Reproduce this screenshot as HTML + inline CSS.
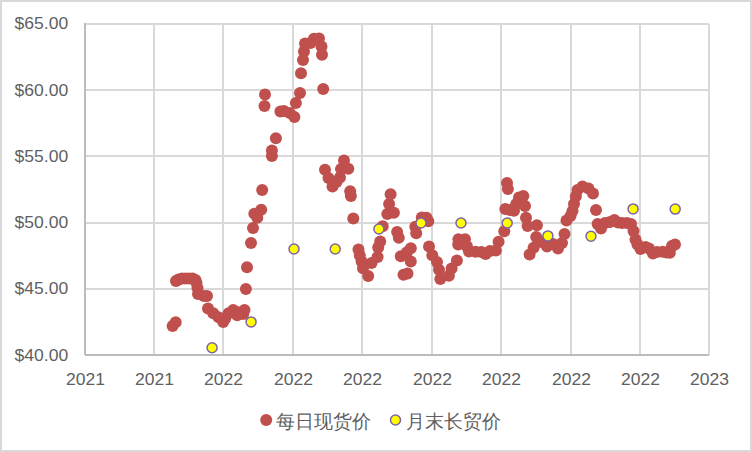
<!DOCTYPE html>
<html><head><meta charset="utf-8"><style>
html,body{margin:0;padding:0;background:#fff;}
body{width:752px;height:452px;overflow:hidden;}
svg{display:block;}
text{font-family:"Liberation Sans",sans-serif;fill:#5f5f5f;}
</style></head><body>
<svg width="752" height="452" viewBox="0 0 752 452">
<rect x="1" y="1" width="750" height="450" fill="#fff" stroke="#d9d9d9" stroke-width="2"/>

<line x1="154.0" y1="24.0" x2="154.0" y2="355.0" stroke="#d9d9d9" stroke-width="2"/>
<line x1="223.0" y1="24.0" x2="223.0" y2="355.0" stroke="#d9d9d9" stroke-width="2"/>
<line x1="293.0" y1="24.0" x2="293.0" y2="355.0" stroke="#d9d9d9" stroke-width="2"/>
<line x1="362.0" y1="24.0" x2="362.0" y2="355.0" stroke="#d9d9d9" stroke-width="2"/>
<line x1="432.0" y1="24.0" x2="432.0" y2="355.0" stroke="#d9d9d9" stroke-width="2"/>
<line x1="501.0" y1="24.0" x2="501.0" y2="355.0" stroke="#d9d9d9" stroke-width="2"/>
<line x1="571.0" y1="24.0" x2="571.0" y2="355.0" stroke="#d9d9d9" stroke-width="2"/>
<line x1="640.0" y1="24.0" x2="640.0" y2="355.0" stroke="#d9d9d9" stroke-width="2"/>
<line x1="709.0" y1="24.0" x2="709.0" y2="355.0" stroke="#d9d9d9" stroke-width="2"/>
<line x1="85.0" y1="24.0" x2="709.0" y2="24.0" stroke="#d9d9d9" stroke-width="2"/>
<line x1="85.0" y1="90.0" x2="709.0" y2="90.0" stroke="#d9d9d9" stroke-width="2"/>
<line x1="85.0" y1="156.0" x2="709.0" y2="156.0" stroke="#d9d9d9" stroke-width="2"/>
<line x1="85.0" y1="223.0" x2="709.0" y2="223.0" stroke="#d9d9d9" stroke-width="2"/>
<line x1="85.0" y1="289.0" x2="709.0" y2="289.0" stroke="#d9d9d9" stroke-width="2"/>
<line x1="709.0" y1="355.0" x2="85.0" y2="355.0" stroke="#bcbcbc" stroke-width="2"/>
<line x1="85.0" y1="23.0" x2="85.0" y2="355.0" stroke="#bcbcbc" stroke-width="2"/>
<text transform="translate(68.2,29.00) scale(1.045,1)" font-size="16.8" text-anchor="end">$65.00</text>
<text transform="translate(68.2,96.00) scale(1.045,1)" font-size="16.8" text-anchor="end">$60.00</text>
<text transform="translate(68.2,162.00) scale(1.045,1)" font-size="16.8" text-anchor="end">$55.00</text>
<text transform="translate(68.2,228.00) scale(1.045,1)" font-size="16.8" text-anchor="end">$50.00</text>
<text transform="translate(68.2,294.00) scale(1.045,1)" font-size="16.8" text-anchor="end">$45.00</text>
<text transform="translate(68.2,361.00) scale(1.045,1)" font-size="16.8" text-anchor="end">$40.00</text>
<text transform="translate(85.60,385.00) scale(1.045,1)" font-size="16.8" text-anchor="middle">2021</text>
<text transform="translate(154.60,385.00) scale(1.045,1)" font-size="16.8" text-anchor="middle">2021</text>
<text transform="translate(223.60,385.00) scale(1.045,1)" font-size="16.8" text-anchor="middle">2022</text>
<text transform="translate(293.60,385.00) scale(1.045,1)" font-size="16.8" text-anchor="middle">2022</text>
<text transform="translate(362.60,385.00) scale(1.045,1)" font-size="16.8" text-anchor="middle">2022</text>
<text transform="translate(432.60,385.00) scale(1.045,1)" font-size="16.8" text-anchor="middle">2022</text>
<text transform="translate(501.60,385.00) scale(1.045,1)" font-size="16.8" text-anchor="middle">2022</text>
<text transform="translate(571.60,385.00) scale(1.045,1)" font-size="16.8" text-anchor="middle">2022</text>
<text transform="translate(640.60,385.00) scale(1.045,1)" font-size="16.8" text-anchor="middle">2022</text>
<text transform="translate(709.60,385.00) scale(1.045,1)" font-size="16.8" text-anchor="middle">2023</text>
<circle cx="172.6" cy="325.9" r="6" fill="#c0504d"/>
<circle cx="175.7" cy="322.3" r="6" fill="#c0504d"/>
<circle cx="176" cy="281" r="6" fill="#c0504d"/>
<circle cx="178.5" cy="279.5" r="6" fill="#c0504d"/>
<circle cx="182" cy="278.5" r="6" fill="#c0504d"/>
<circle cx="185.5" cy="278.5" r="6" fill="#c0504d"/>
<circle cx="189" cy="278.5" r="6" fill="#c0504d"/>
<circle cx="192.5" cy="278.5" r="6" fill="#c0504d"/>
<circle cx="195.5" cy="280" r="6" fill="#c0504d"/>
<circle cx="196.5" cy="283" r="6" fill="#c0504d"/>
<circle cx="197.5" cy="288" r="6" fill="#c0504d"/>
<circle cx="198" cy="294" r="6" fill="#c0504d"/>
<circle cx="204" cy="296" r="6" fill="#c0504d"/>
<circle cx="207" cy="296" r="6" fill="#c0504d"/>
<circle cx="208" cy="308.6" r="6" fill="#c0504d"/>
<circle cx="213.3" cy="313.2" r="6" fill="#c0504d"/>
<circle cx="218.6" cy="317.2" r="6" fill="#c0504d"/>
<circle cx="223.2" cy="321.9" r="6" fill="#c0504d"/>
<circle cx="225.2" cy="318.6" r="6" fill="#c0504d"/>
<circle cx="228.6" cy="313.2" r="6" fill="#c0504d"/>
<circle cx="233.2" cy="309.9" r="6" fill="#c0504d"/>
<circle cx="237.2" cy="311.9" r="6" fill="#c0504d"/>
<circle cx="237.2" cy="315.2" r="6" fill="#c0504d"/>
<circle cx="243.2" cy="313.9" r="6" fill="#c0504d"/>
<circle cx="244.5" cy="309.9" r="6" fill="#c0504d"/>
<circle cx="245.9" cy="289" r="6" fill="#c0504d"/>
<circle cx="247" cy="267.2" r="6" fill="#c0504d"/>
<circle cx="251" cy="243" r="6" fill="#c0504d"/>
<circle cx="253" cy="228" r="6" fill="#c0504d"/>
<circle cx="257.3" cy="217.8" r="6" fill="#c0504d"/>
<circle cx="254.3" cy="213.8" r="6" fill="#c0504d"/>
<circle cx="261.2" cy="209.8" r="6" fill="#c0504d"/>
<circle cx="262.2" cy="189.9" r="6" fill="#c0504d"/>
<circle cx="271.9" cy="155.9" r="6" fill="#c0504d"/>
<circle cx="271.9" cy="150.6" r="6" fill="#c0504d"/>
<circle cx="275.9" cy="138.2" r="6" fill="#c0504d"/>
<circle cx="264.5" cy="106" r="6" fill="#c0504d"/>
<circle cx="265" cy="94.5" r="6" fill="#c0504d"/>
<circle cx="280.4" cy="111.4" r="6" fill="#c0504d"/>
<circle cx="283.9" cy="110.9" r="6" fill="#c0504d"/>
<circle cx="289.9" cy="112.9" r="6" fill="#c0504d"/>
<circle cx="294.4" cy="116.9" r="6" fill="#c0504d"/>
<circle cx="295.9" cy="103" r="6" fill="#c0504d"/>
<circle cx="300" cy="93" r="6" fill="#c0504d"/>
<circle cx="301" cy="73.2" r="6" fill="#c0504d"/>
<circle cx="303" cy="60.1" r="6" fill="#c0504d"/>
<circle cx="304" cy="51.5" r="6" fill="#c0504d"/>
<circle cx="305" cy="43.5" r="6" fill="#c0504d"/>
<circle cx="310.5" cy="43" r="6" fill="#c0504d"/>
<circle cx="314" cy="38.8" r="6" fill="#c0504d"/>
<circle cx="319" cy="38.5" r="6" fill="#c0504d"/>
<circle cx="321.5" cy="46.5" r="6" fill="#c0504d"/>
<circle cx="322" cy="54.7" r="6" fill="#c0504d"/>
<circle cx="323.2" cy="89" r="6" fill="#c0504d"/>
<circle cx="325" cy="169.8" r="6" fill="#c0504d"/>
<circle cx="328.5" cy="178" r="6" fill="#c0504d"/>
<circle cx="332.5" cy="186.5" r="6" fill="#c0504d"/>
<circle cx="336.5" cy="182" r="6" fill="#c0504d"/>
<circle cx="340" cy="177.5" r="6" fill="#c0504d"/>
<circle cx="341" cy="169" r="6" fill="#c0504d"/>
<circle cx="344" cy="160.5" r="6" fill="#c0504d"/>
<circle cx="348.3" cy="168.8" r="6" fill="#c0504d"/>
<circle cx="350.2" cy="191.2" r="6" fill="#c0504d"/>
<circle cx="350.9" cy="196" r="6" fill="#c0504d"/>
<circle cx="353.3" cy="218.6" r="6" fill="#c0504d"/>
<circle cx="358.5" cy="249.5" r="6" fill="#c0504d"/>
<circle cx="359.8" cy="255.5" r="6" fill="#c0504d"/>
<circle cx="361.6" cy="261.6" r="6" fill="#c0504d"/>
<circle cx="363" cy="268.2" r="6" fill="#c0504d"/>
<circle cx="368.2" cy="276" r="6" fill="#c0504d"/>
<circle cx="371.6" cy="262.9" r="6" fill="#c0504d"/>
<circle cx="377.6" cy="256.9" r="6" fill="#c0504d"/>
<circle cx="378.2" cy="247.6" r="6" fill="#c0504d"/>
<circle cx="380.2" cy="241.6" r="6" fill="#c0504d"/>
<circle cx="382.7" cy="226.2" r="6" fill="#c0504d"/>
<circle cx="387.3" cy="214" r="6" fill="#c0504d"/>
<circle cx="389.1" cy="204" r="6" fill="#c0504d"/>
<circle cx="393.9" cy="212.8" r="6" fill="#c0504d"/>
<circle cx="390.6" cy="194.2" r="6" fill="#c0504d"/>
<circle cx="397.1" cy="231.9" r="6" fill="#c0504d"/>
<circle cx="398.8" cy="237.7" r="6" fill="#c0504d"/>
<circle cx="400.8" cy="256.2" r="6" fill="#c0504d"/>
<circle cx="406.8" cy="252.3" r="6" fill="#c0504d"/>
<circle cx="410.8" cy="248.3" r="6" fill="#c0504d"/>
<circle cx="410.8" cy="261.6" r="6" fill="#c0504d"/>
<circle cx="403.5" cy="274.8" r="6" fill="#c0504d"/>
<circle cx="407.5" cy="273.5" r="6" fill="#c0504d"/>
<circle cx="416.2" cy="233.3" r="6" fill="#c0504d"/>
<circle cx="415.3" cy="226.8" r="6" fill="#c0504d"/>
<circle cx="421.8" cy="217.5" r="6" fill="#c0504d"/>
<circle cx="426.5" cy="217.8" r="6" fill="#c0504d"/>
<circle cx="428.3" cy="221.2" r="6" fill="#c0504d"/>
<circle cx="429" cy="246.6" r="6" fill="#c0504d"/>
<circle cx="432.3" cy="255.2" r="6" fill="#c0504d"/>
<circle cx="437" cy="261.9" r="6" fill="#c0504d"/>
<circle cx="439" cy="269.8" r="6" fill="#c0504d"/>
<circle cx="440.3" cy="279.1" r="6" fill="#c0504d"/>
<circle cx="448.9" cy="275.8" r="6" fill="#c0504d"/>
<circle cx="451.6" cy="268.5" r="6" fill="#c0504d"/>
<circle cx="456.9" cy="260.5" r="6" fill="#c0504d"/>
<circle cx="458.2" cy="244.5" r="6" fill="#c0504d"/>
<circle cx="458.4" cy="239.3" r="6" fill="#c0504d"/>
<circle cx="465" cy="239.3" r="6" fill="#c0504d"/>
<circle cx="467" cy="246.5" r="6" fill="#c0504d"/>
<circle cx="469" cy="251.5" r="6" fill="#c0504d"/>
<circle cx="475.5" cy="251.8" r="6" fill="#c0504d"/>
<circle cx="481.4" cy="252" r="6" fill="#c0504d"/>
<circle cx="485.6" cy="254" r="6" fill="#c0504d"/>
<circle cx="490" cy="251" r="6" fill="#c0504d"/>
<circle cx="495.9" cy="250.5" r="6" fill="#c0504d"/>
<circle cx="498.6" cy="241.8" r="6" fill="#c0504d"/>
<circle cx="504.3" cy="231.2" r="6" fill="#c0504d"/>
<circle cx="507" cy="182.9" r="6" fill="#c0504d"/>
<circle cx="507.9" cy="188.9" r="6" fill="#c0504d"/>
<circle cx="505.3" cy="208.9" r="6" fill="#c0504d"/>
<circle cx="510" cy="210" r="6" fill="#c0504d"/>
<circle cx="514" cy="210.7" r="6" fill="#c0504d"/>
<circle cx="516.2" cy="204" r="6" fill="#c0504d"/>
<circle cx="519" cy="197.4" r="6" fill="#c0504d"/>
<circle cx="523.3" cy="196" r="6" fill="#c0504d"/>
<circle cx="525" cy="206" r="6" fill="#c0504d"/>
<circle cx="526" cy="217.7" r="6" fill="#c0504d"/>
<circle cx="527.6" cy="225.9" r="6" fill="#c0504d"/>
<circle cx="536.9" cy="225.2" r="6" fill="#c0504d"/>
<circle cx="536.2" cy="237" r="6" fill="#c0504d"/>
<circle cx="541.5" cy="242" r="6" fill="#c0504d"/>
<circle cx="547" cy="246.5" r="6" fill="#c0504d"/>
<circle cx="553" cy="244" r="6" fill="#c0504d"/>
<circle cx="558" cy="248.5" r="6" fill="#c0504d"/>
<circle cx="562" cy="243" r="6" fill="#c0504d"/>
<circle cx="564.5" cy="234" r="6" fill="#c0504d"/>
<circle cx="566.5" cy="220.5" r="6" fill="#c0504d"/>
<circle cx="570.5" cy="216" r="6" fill="#c0504d"/>
<circle cx="572.5" cy="211" r="6" fill="#c0504d"/>
<circle cx="574" cy="204" r="6" fill="#c0504d"/>
<circle cx="575.8" cy="196.5" r="6" fill="#c0504d"/>
<circle cx="577.5" cy="190" r="6" fill="#c0504d"/>
<circle cx="582.5" cy="186.5" r="6" fill="#c0504d"/>
<circle cx="588.5" cy="188.5" r="6" fill="#c0504d"/>
<circle cx="593" cy="193.5" r="6" fill="#c0504d"/>
<circle cx="529.6" cy="254.4" r="6" fill="#c0504d"/>
<circle cx="533.6" cy="247.8" r="6" fill="#c0504d"/>
<circle cx="596" cy="210" r="6" fill="#c0504d"/>
<circle cx="597.6" cy="224" r="6" fill="#c0504d"/>
<circle cx="601" cy="228.5" r="6" fill="#c0504d"/>
<circle cx="605" cy="223" r="6" fill="#c0504d"/>
<circle cx="610" cy="222" r="6" fill="#c0504d"/>
<circle cx="614.4" cy="220" r="6" fill="#c0504d"/>
<circle cx="618" cy="222.5" r="6" fill="#c0504d"/>
<circle cx="622" cy="223" r="6" fill="#c0504d"/>
<circle cx="627" cy="223" r="6" fill="#c0504d"/>
<circle cx="631" cy="224" r="6" fill="#c0504d"/>
<circle cx="633.5" cy="231" r="6" fill="#c0504d"/>
<circle cx="635.5" cy="239.5" r="6" fill="#c0504d"/>
<circle cx="637.5" cy="244.5" r="6" fill="#c0504d"/>
<circle cx="640.5" cy="249" r="6" fill="#c0504d"/>
<circle cx="645.5" cy="247" r="6" fill="#c0504d"/>
<circle cx="649" cy="248.5" r="6" fill="#c0504d"/>
<circle cx="652.9" cy="253.5" r="6" fill="#c0504d"/>
<circle cx="657" cy="252" r="6" fill="#c0504d"/>
<circle cx="662.8" cy="251.8" r="6" fill="#c0504d"/>
<circle cx="666.5" cy="252.5" r="6" fill="#c0504d"/>
<circle cx="669.8" cy="252.8" r="6" fill="#c0504d"/>
<circle cx="672" cy="246" r="6" fill="#c0504d"/>
<circle cx="675" cy="244.5" r="6" fill="#c0504d"/>
<circle cx="212.1" cy="347.8" r="5" fill="#ffff00" stroke="#7f62a6" stroke-width="1.5"/>
<circle cx="251.1" cy="321.9" r="5" fill="#ffff00" stroke="#7f62a6" stroke-width="1.5"/>
<circle cx="294" cy="249" r="5" fill="#ffff00" stroke="#7f62a6" stroke-width="1.5"/>
<circle cx="335.2" cy="249" r="5" fill="#ffff00" stroke="#7f62a6" stroke-width="1.5"/>
<circle cx="378.9" cy="229" r="5" fill="#ffff00" stroke="#7f62a6" stroke-width="1.5"/>
<circle cx="421" cy="223" r="5" fill="#ffff00" stroke="#7f62a6" stroke-width="1.5"/>
<circle cx="461" cy="223" r="5" fill="#ffff00" stroke="#7f62a6" stroke-width="1.5"/>
<circle cx="507.2" cy="223" r="5" fill="#ffff00" stroke="#7f62a6" stroke-width="1.5"/>
<circle cx="547.9" cy="235.9" r="5" fill="#ffff00" stroke="#7f62a6" stroke-width="1.5"/>
<circle cx="591" cy="236.2" r="5" fill="#ffff00" stroke="#7f62a6" stroke-width="1.5"/>
<circle cx="633.1" cy="208.9" r="5" fill="#ffff00" stroke="#7f62a6" stroke-width="1.5"/>
<circle cx="675.2" cy="209.1" r="5" fill="#ffff00" stroke="#7f62a6" stroke-width="1.5"/>
<circle cx="266.2" cy="420.1" r="6" fill="#c0504d"/>
<text x="276" y="428" font-size="19">每日现货价</text>
<circle cx="395.5" cy="420" r="5" fill="#ffff00" stroke="#7f62a6" stroke-width="1.5"/>
<text x="406" y="428" font-size="19">月末长贸价</text>
</svg></body></html>
